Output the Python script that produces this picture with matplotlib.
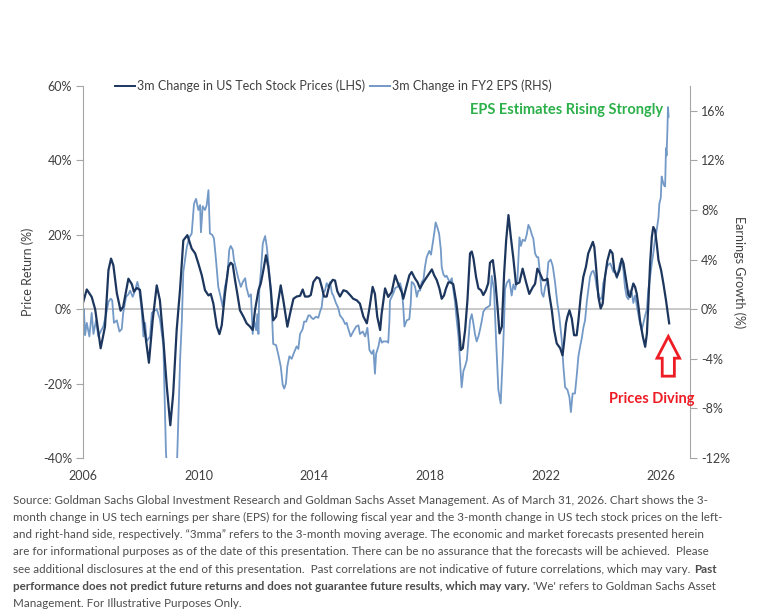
import matplotlib.pyplot as plt
from matplotlib.patches import FancyArrow
from matplotlib.ticker import FuncFormatter

plt.rcParams['font.family'] = ['Lato', 'DejaVu Sans']

# 3m change in US tech stock prices (LHS, %)
price_years = [2006.01, 2006.13, 2006.30, 2006.42, 2006.61, 2006.76, 2006.88, 2006.97, 2007.05, 2007.17,
               2007.30, 2007.39, 2007.57, 2007.69, 2007.76, 2007.86, 2007.97, 2008.09, 2008.28, 2008.41,
               2008.55, 2008.66, 2008.78, 2008.90, 2009.02, 2009.12, 2009.24, 2009.36, 2009.47, 2009.61,
               2009.76, 2009.88, 2009.99, 2010.11, 2010.22, 2010.34, 2010.42, 2010.51, 2010.63, 2010.72,
               2010.80, 2010.91, 2011.03, 2011.11, 2011.18, 2011.26, 2011.34, 2011.43, 2011.55, 2011.66,
               2011.78, 2011.87, 2011.95, 2012.07, 2012.15, 2012.24, 2012.33, 2012.41, 2012.50, 2012.58,
               2012.68, 2012.76, 2012.84, 2012.93, 2013.07, 2013.16, 2013.28, 2013.39, 2013.51, 2013.60,
               2013.68, 2013.80, 2013.88, 2013.97, 2014.09, 2014.18, 2014.26, 2014.34, 2014.43, 2014.52,
               2014.64, 2014.72, 2014.80, 2014.89, 2015.01, 2015.12, 2015.24, 2015.35, 2015.47, 2015.58,
               2015.70, 2015.82, 2015.91, 2016.02, 2016.10, 2016.18, 2016.28, 2016.33, 2016.45, 2016.56,
               2016.68, 2016.80, 2016.91, 2017.03, 2017.08, 2017.18, 2017.29, 2017.37, 2017.49, 2017.57,
               2017.66, 2017.78, 2017.89, 2018.07, 2018.15, 2018.24, 2018.33, 2018.41, 2018.49, 2018.56,
               2018.64, 2018.72, 2018.81, 2018.91, 2018.99, 2019.07, 2019.14, 2019.22, 2019.30, 2019.39,
               2019.45, 2019.51, 2019.60, 2019.68, 2019.77, 2019.85, 2019.94, 2020.02, 2020.08, 2020.18,
               2020.26, 2020.34, 2020.41, 2020.49, 2020.57, 2020.64, 2020.72, 2020.80, 2020.89, 2020.98,
               2021.10, 2021.21, 2021.33, 2021.44, 2021.56, 2021.64, 2021.72, 2021.81, 2021.91, 2021.99,
               2022.07, 2022.13, 2022.22, 2022.30, 2022.39, 2022.51, 2022.59, 2022.64, 2022.71, 2022.76,
               2022.83, 2022.91, 2022.99, 2023.08, 2023.14, 2023.22, 2023.31, 2023.40, 2023.48, 2023.57,
               2023.64, 2023.69, 2023.75, 2023.83, 2023.91, 2023.98, 2024.06, 2024.14, 2024.24, 2024.32,
               2024.38, 2024.47, 2024.56, 2024.64, 2024.70, 2024.79, 2024.87, 2024.93, 2024.99, 2025.04,
               2025.10, 2025.16, 2025.22, 2025.27, 2025.37, 2025.45, 2025.51, 2025.56, 2025.62, 2025.68,
               2025.73, 2025.79, 2025.85, 2025.91, 2026.00, 2026.08, 2026.17, 2026.28]
price_chg = [2.0, 5.3, 3.3, 0.0, -10.5, -4.7, 10.5, 13.6, 11.8, 4.3,
             -0.4, 0.7, 8.2, 6.7, 4.7, 5.7, 5.2, -3.0, -14.4, -3.0,
             6.4, 2.4, -8.3, -20.9, -31.2, -22.7, -5.6, 5.6, 18.5, 19.9,
             16.3, 15.0, 12.3, 9.1, 5.1, 3.7, 4.1, 1.5, -4.7, -6.7,
             -4.3, 4.1, 11.4, 12.5, 12.0, 7.8, 4.1, -0.3, -2.0, -3.8,
             -4.7, -5.6, -0.3, 5.1, 6.9, 10.5, 14.5, 11.4, 5.1, -3.0,
             -2.0, 2.4, 6.4, 2.4, -4.7, -1.3, 2.8, 3.4, 3.6, 5.3,
             3.4, 3.4, 3.8, 7.3, 8.6, 8.2, 6.0, 3.4, 3.4, 6.4,
             7.9, 7.7, 4.8, 3.4, 5.1, 4.8, 3.8, 2.8, 2.4, 1.5,
             -2.0, -3.8, 0.3, 6.0, 4.1, -2.0, -5.6, -1.3, 5.6, 3.3,
             4.6, 9.1, 6.7, 4.5, 2.8, 5.8, 9.1, 10.0, 8.2, 7.3,
             5.6, 7.3, 8.6, 10.7, 9.1, 7.8, 5.6, 2.8, 3.7, 5.6,
             7.2, 7.2, 6.7, 2.0, -3.0, -11.0, -10.5, -5.6, 2.4, 15.0,
             15.5, 13.6, 8.6, 5.6, 5.1, 3.8, 5.1, 7.0, 12.5, 13.2,
             8.0, 0.7, -6.5, -4.7, 9.6, 18.5, 25.3, 19.5, 13.6, 6.7,
             7.2, 10.9, 7.2, 4.1, 5.9, 6.8, 10.9, 9.6, 7.8, 7.8,
             8.2, 4.1, -0.3, -5.6, -9.2, -10.5, -12.4, -9.2, -3.8, -2.0,
             -0.3, -2.5, -7.0, -7.0, -3.0, 3.5, 8.7, 11.4, 15.0, 16.7,
             18.1, 16.7, 11.4, 3.3, 0.2, 1.5, 8.7, 13.0, 15.9, 15.0,
             10.5, 8.7, 10.5, 13.6, 12.3, 7.8, 3.8, 3.3, 5.4, 6.9,
             6.0, 4.1, 0.6, -3.0, -7.4, -10.1, -6.5, 1.5, 12.3, 19.4,
             22.1, 21.2, 17.6, 13.2, 10.5, 6.9, 2.4, -3.8]

# 3m change in FY2 EPS (RHS, %)
eps_years = [2006.01, 2006.03, 2006.07, 2006.13, 2006.22, 2006.30, 2006.36, 2006.45, 2006.53, 2006.61,
             2006.70, 2006.80, 2006.88, 2006.96, 2007.01, 2007.07, 2007.17, 2007.26, 2007.34, 2007.39,
             2007.49, 2007.57, 2007.63, 2007.72, 2007.80, 2007.88, 2007.95, 2008.03, 2008.09, 2008.15,
             2008.20, 2008.32, 2008.38, 2008.43, 2008.55, 2008.66, 2008.78, 2008.87, 2008.94, 2009.08,
             2009.22, 2009.26, 2009.36, 2009.42, 2009.47, 2009.59, 2009.68, 2009.76, 2009.84, 2009.91,
             2009.99, 2010.05, 2010.08, 2010.14, 2010.22, 2010.28, 2010.34, 2010.39, 2010.47, 2010.53,
             2010.60, 2010.68, 2010.76, 2010.83, 2010.91, 2010.99, 2011.06, 2011.11, 2011.18, 2011.22,
             2011.29, 2011.37, 2011.46, 2011.53, 2011.61, 2011.66, 2011.74, 2011.81, 2011.87, 2011.92,
             2011.99, 2012.03, 2012.07, 2012.10, 2012.15, 2012.22, 2012.30, 2012.36, 2012.41, 2012.47,
             2012.53, 2012.58, 2012.68, 2012.76, 2012.84, 2012.91, 2012.96, 2013.02, 2013.07, 2013.14,
             2013.22, 2013.30, 2013.39, 2013.45, 2013.51, 2013.60, 2013.65, 2013.72, 2013.80, 2013.85,
             2013.91, 2013.97, 2014.06, 2014.14, 2014.20, 2014.26, 2014.31, 2014.37, 2014.43, 2014.49,
             2014.55, 2014.61, 2014.66, 2014.75, 2014.83, 2014.89, 2014.99, 2015.07, 2015.12, 2015.18,
             2015.26, 2015.35, 2015.45, 2015.53, 2015.58, 2015.68, 2015.76, 2015.84, 2015.91, 2015.99,
             2016.05, 2016.10, 2016.14, 2016.22, 2016.28, 2016.34, 2016.39, 2016.51, 2016.56, 2016.60,
             2016.62, 2016.68, 2016.74, 2016.80, 2016.88, 2016.97, 2017.03, 2017.08, 2017.12, 2017.20,
             2017.29, 2017.34, 2017.37, 2017.43, 2017.49, 2017.55, 2017.60, 2017.66, 2017.72, 2017.78,
             2017.83, 2017.89, 2017.98, 2018.04, 2018.10, 2018.15, 2018.20, 2018.26, 2018.32, 2018.38,
             2018.41, 2018.47, 2018.53, 2018.58, 2018.64, 2018.70, 2018.76, 2018.81, 2018.87, 2018.93,
             2018.99, 2019.04, 2019.10, 2019.16, 2019.22, 2019.28, 2019.33, 2019.39, 2019.45, 2019.51,
             2019.56, 2019.62, 2019.68, 2019.74, 2019.80, 2019.85, 2019.94, 2020.02, 2020.08, 2020.14,
             2020.22, 2020.29, 2020.37, 2020.45, 2020.52, 2020.57, 2020.60, 2020.66, 2020.75, 2020.83,
             2020.89, 2020.95, 2021.03, 2021.10, 2021.15, 2021.21, 2021.29, 2021.35, 2021.41, 2021.47,
             2021.53, 2021.58, 2021.64, 2021.70, 2021.75, 2021.81, 2021.87, 2021.93, 2021.99, 2022.04,
             2022.10, 2022.18, 2022.25, 2022.33, 2022.41, 2022.48, 2022.56, 2022.62, 2022.68, 2022.76,
             2022.83, 2022.88, 2022.94, 2023.02, 2023.08, 2023.14, 2023.20, 2023.26, 2023.31, 2023.37,
             2023.43, 2023.48, 2023.54, 2023.60, 2023.66, 2023.72, 2023.77, 2023.83, 2023.89, 2023.95,
             2024.00, 2024.06, 2024.12, 2024.18, 2024.24, 2024.29, 2024.35, 2024.41, 2024.47, 2024.52,
             2024.58, 2024.64, 2024.70, 2024.75, 2024.81, 2024.87, 2024.93, 2024.99, 2025.04, 2025.10,
             2025.16, 2025.22, 2025.27, 2025.33, 2025.39, 2025.45, 2025.51, 2025.56, 2025.62, 2025.68,
             2025.73, 2025.79, 2025.85, 2025.91, 2025.94, 2025.99, 2026.02, 2026.06, 2026.10, 2026.14,
             2026.17, 2026.19, 2026.22, 2026.24, 2026.26]
eps_chg = [-2.0, 0.0, -2.1, -1.1, -2.2, -0.3, -2.0, -0.9, -2.2, -1.8,
           -1.4, -0.4, 0.6, 0.85, 0.7, -1.1, -0.9, -1.8, -1.6, -0.3,
           1.0, 1.2, 1.5, 1.0, 1.5, 2.2, 1.5, -0.1, -2.2, -1.1,
           -2.6, -2.2, -0.3, -0.2, 0.0, -0.8, -2.9, -11.6, -14.0, -15.0,
           -14.0, -11.8, -4.0, -0.9, 3.0, 5.0, 5.8, 6.1, 8.5, 8.9,
           8.0, 8.4, 6.2, 8.3, 8.0, 8.4, 9.6, 6.1, 6.0, 5.7,
           4.0, 1.8, 1.0, 0.2, 1.8, 2.6, 4.8, 5.1, 4.8, 4.0,
           3.3, 2.5, 1.8, 2.2, 2.5, 1.7, 1.0, 1.2, -2.0, -0.9,
           -1.7, -0.4, -2.0, 1.7, 2.9, 5.3, 5.9, 5.0, 3.8, 2.2,
           0.0, -2.8, -2.9, -3.7, -4.6, -6.1, -6.4, -6.0, -4.6, -3.8,
           -4.0, -3.5, -3.0, -3.2, -2.0, -1.6, -1.0, -1.0, -0.5, -0.5,
           -0.7, -0.8, -0.6, -0.7, -0.2, 0.2, 1.3, 1.5, 2.1, 1.8,
           2.2, 1.3, 1.1, 0.5, 0.1, -0.5, -0.8, -1.2, -1.1, -1.6,
           -2.2, -1.8, -1.4, -1.3, -2.0, -1.8, -2.2, -1.5, -3.3, -3.6,
           -3.3, -5.2, -3.6, -3.0, -2.3, -2.7, -2.6, -2.6, -2.7, -1.0,
           0.7, 1.0, 1.3, 1.7, 1.8, 2.1, 1.6, 0.2, -1.4, -0.9,
           -0.8, 0.5, 2.2, 2.1, 1.8, 1.0, 1.5, 1.5, 2.2, 2.4,
           3.4, 4.2, 4.7, 4.4, 5.3, 6.1, 7.0, 6.6, 6.1, 4.8,
           3.4, 2.8, 2.6, 2.7, 2.4, 2.2, 2.5, 1.6, 0.6, -0.9,
           -2.2, -4.1, -6.3, -5.0, -4.6, -4.1, -2.6, -0.9, -0.4, -1.2,
           -2.0, -2.6, -2.2, -1.6, -0.9, -0.2, 0.1, 0.2, 0.3, 2.7,
           1.6, -2.4, -6.5, -7.6, -4.0, -0.9, 1.6, 2.1, 2.4, 1.1,
           2.0, 1.6, 2.4, 5.8, 5.1, 5.6, 5.5, 6.0, 6.8, 6.5,
           6.0, 5.7, 4.5, 4.2, 4.2, 2.9, 1.3, 1.0, 1.8, 2.1,
           3.8, 4.0, 3.5, 2.2, 0.5, -0.6, -2.4, -4.6, -6.3, -6.5,
           -7.1, -8.3, -6.8, -6.8, -5.4, -3.8, -3.0, -2.3, -1.5, -0.9,
           0.6, 1.5, 2.6, 3.0, 3.1, 2.6, 1.8, 1.3, 0.8, 0.9,
           2.1, 2.6, 3.4, 3.6, 3.7, 3.4, 3.0, 3.1, 2.5, 3.1,
           3.7, 4.0, 3.1, 1.8, 1.0, 0.8, 1.5, 1.3, 0.5, 1.1,
           0.3, -0.5, -1.1, -1.7, -1.1, -0.5, 0.0, 1.6, 2.6, 3.7,
           4.5, 5.6, 6.4, 7.4, 8.5, 9.0, 10.7, 10.3, 10.0, 9.9,
           13.0, 12.4, 14.5, 16.3, 15.5]

year_ticks = [2006, 2010, 2014, 2018, 2022, 2026]
price_ticks = [-40, -20, 0, 20, 40, 60]
eps_ticks = [-12, -8, -4, 0, 4, 8, 12, 16]

navy = '#1c365e'
light = '#7399c7'
txt = '#404040'
foot_txt = '#4d4d4d'
axis_grey = '#a6a6a6'
red = '#ee1c25'
green = '#2bb04a'

fig = plt.figure(figsize=(7.73, 6.16), dpi=100)
ax = fig.add_axes([0.1074, 0.2565, 0.7852, 0.6039])
ax2 = ax.twinx()
# price line sits on top of the EPS line
ax.set_zorder(ax2.get_zorder() + 1)
ax.patch.set_visible(False)

ax2.axhline(0, color='#bfbfbf', lw=1.2, zorder=1)
l2, = ax2.plot(eps_years, eps_chg, color=light, lw=1.3, zorder=2)
l1, = ax.plot(price_years, price_chg, color=navy, lw=1.6)

ax.set_xlim(2006, 2027)
ax.set_ylim(-40, 60)
ax2.set_ylim(-12, 18)
ax.set_xticks(year_ticks)
ax.set_yticks(price_ticks)
ax2.set_yticks(eps_ticks)
pct = FuncFormatter(lambda v, _: f'{v:.0f}%')
ax.yaxis.set_major_formatter(pct)
ax2.yaxis.set_major_formatter(pct)

for a in (ax, ax2):
    for s in ('top', 'bottom'):
        a.spines[s].set_visible(False)
    a.spines['left'].set_color(axis_grey)
    a.spines['right'].set_color(axis_grey)
    a.tick_params(axis='y', direction='out', length=5, color=axis_grey,
                  labelsize=9, labelcolor=txt, pad=3)
ax.spines['right'].set_visible(False)
ax2.spines['left'].set_visible(False)
ax.tick_params(axis='x', length=0, labelsize=9, labelcolor=txt, pad=9)

ax.set_ylabel('Price Return (%)', fontsize=9, color=txt, labelpad=6)
ax2.set_ylabel('Earnings Growth (%)', fontsize=9, color=txt, rotation=270,
               va='bottom', labelpad=2)

leg = fig.legend([l1, l2], ['3m Change in US Tech Stock Prices (LHS)', '3m Change in FY2 EPS (RHS)'],
                 loc='center', bbox_to_anchor=(0.4314, 0.8604), ncol=2, frameon=False,
                 handlelength=1.6, handletextpad=0.15, columnspacing=0.4, fontsize=9,
                 labelcolor=txt, borderpad=0)
for h in leg.get_lines():
    h.set_linewidth(1.4)

# annotations
ax2.text(2026.07, 16.1, 'EPS Estimates Rising Strongly', color=green, fontsize=10.5,
         fontweight='bold', ha='right', va='center')
ax2.text(2027.14, -7.26, 'Prices Diving', color=red, fontsize=10.5,
         fontweight='bold', ha='right', va='center', clip_on=False)
ax2.add_patch(FancyArrow(2026.25, -5.4, 0, 3.2, width=0.42, head_width=0.78,
                         head_length=1.75, length_includes_head=True,
                         fc='white', ec=red, lw=2, zorder=5))

# footer
foot = dict(fontsize=8.4, color=foot_txt, va='center', ha='left')
x0 = 0.017
lines_y = [500, 517.3, 534.6, 551.9, 569.2, 586.5, 603.8]
fy = [1 - v / 616 for v in lines_y]
fig.text(x0, fy[0], 'Source: Goldman Sachs Global Investment Research and Goldman Sachs Asset Management. '
         'As of March 31, 2026. Chart shows the 3-', **foot)
fig.text(x0, fy[1], 'month change in US tech earnings per share (EPS) for the following fiscal year and '
         'the 3-month change in US tech stock prices on the left-', **foot)
fig.text(x0, fy[2], 'and right-hand side, respectively. \u201c3mma\u201d refers to the 3-month moving average. '
         'The economic and market forecasts presented herein', **foot)
fig.text(x0, fy[3], 'are for informational purposes as of the date of this presentation. There can be no '
         'assurance that the forecasts will be achieved.  Please', **foot)
t5 = fig.text(x0, fy[4], 'see additional disclosures at the end of this presentation.  Past correlations '
              'are not indicative of future correlations, which may vary.', **foot)
ax.annotate('Past', xy=(1, 0.5), xycoords=t5, xytext=(2.5, 0), textcoords='offset points',
            fontweight='bold', **foot)
t6 = fig.text(x0, fy[5], 'performance does not predict future returns and does not guarantee future '
              'results, which may vary.', fontweight='bold', **foot)
ax.annotate("'We' refers to Goldman Sachs Asset", xy=(1, 0.5), xycoords=t6, xytext=(2.5, 0),
            textcoords='offset points', **foot)
fig.text(x0, fy[6], 'Management. For Illustrative Purposes Only.', **foot)

fig.savefig('out.png', dpi=100)
